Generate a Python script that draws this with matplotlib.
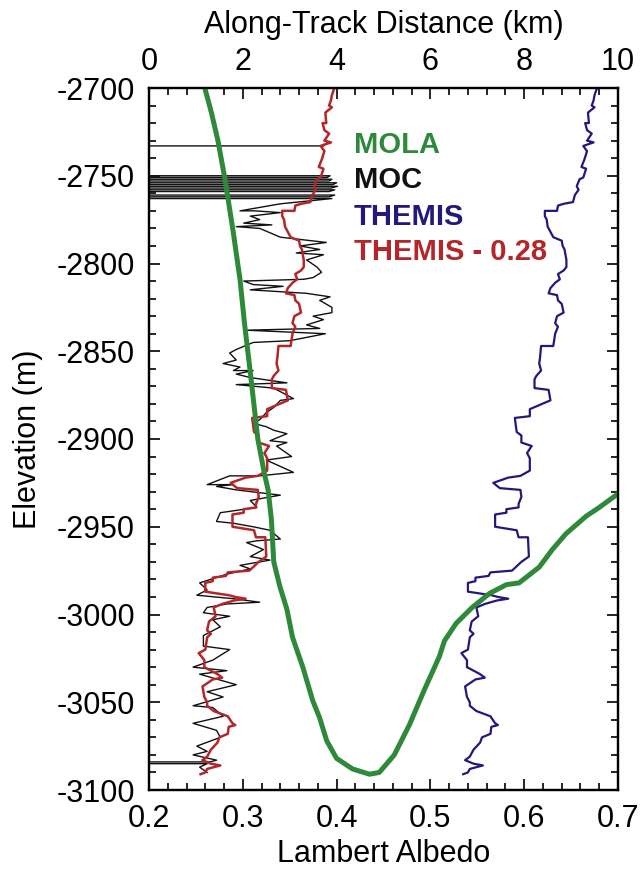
import matplotlib
matplotlib.use('Agg')
import matplotlib.pyplot as plt
from matplotlib.ticker import MultipleLocator
import numpy as np

plt.rcParams['font.family'] = ['Liberation Sans', 'DejaVu Sans']
plt.rcParams['axes.unicode_minus'] = False

# MOLA topography along the track (km, m)
mola_dist = [1.19, 1.33, 1.47, 1.62, 1.79, 1.94, 2.04, 2.16, 2.32, 2.47, 2.54, 2.61,
             2.66, 2.79, 2.94, 3.06, 3.28, 3.49, 3.64, 3.79, 4.00, 4.34, 4.70, 4.91,
             5.23, 5.55, 5.87, 6.19, 6.30, 6.55, 6.89, 7.26, 7.62, 7.89, 8.32, 8.60,
             8.89, 9.32, 9.60, 9.96, 10.1]
mola_elev = [-2700, -2714, -2730, -2752, -2781, -2809, -2835, -2862, -2900, -2921, -2929, -2946,
             -2970, -2984, -2997, -3013, -3030, -3049, -3059, -3072, -3082, -3088, -3091, -3090,
             -3080, -3063, -3043, -3024, -3015, -3005, -2996, -2988, -2983, -2982, -2973, -2963,
             -2954, -2944, -2939, -2932, -2929]

# MOC albedo profile (0.0 = dropout)
moc_albedo = [0.386, 0.0, 0.0, 0.393, 0.390, 0.0, 0.0, 0.395, 0.392, 0.0, 0.0, 0.400, 0.396, 0.0,
              0.0, 0.401, 0.394, 0.0, 0.0, 0.398, 0.392, 0.0, 0.0, 0.398, 0.392, 0.0, 0.0, 0.395,
              0.340, 0.297, 0.313, 0.340, 0.308, 0.318, 0.301, 0.331, 0.293, 0.318, 0.340, 0.389,
              0.361, 0.382, 0.357, 0.386, 0.368, 0.379, 0.384, 0.375, 0.365, 0.301, 0.311, 0.343,
              0.308, 0.368, 0.393, 0.382, 0.395, 0.395, 0.375, 0.386, 0.368, 0.382, 0.304, 0.388,
              0.350, 0.311, 0.293, 0.286, 0.293, 0.279, 0.297, 0.290, 0.311, 0.293, 0.308, 0.347,
              0.293, 0.333, 0.354, 0.340, 0.333, 0.325, 0.318, 0.311, 0.325, 0.333, 0.347, 0.329,
              0.347, 0.336, 0.352, 0.325, 0.354, 0.318, 0.286, 0.262, 0.290, 0.272, 0.293, 0.340,
              0.308, 0.315, 0.276, 0.272, 0.290, 0.311, 0.329, 0.340, 0.315, 0.304, 0.322, 0.308,
              0.329, 0.297, 0.308, 0.283, 0.254, 0.262, 0.251, 0.290, 0.318, 0.283, 0.262, 0.258,
              0.286, 0.268, 0.276, 0.258, 0.258, 0.286, 0.268, 0.247, 0.283, 0.254, 0.293, 0.262,
              0.279, 0.247, 0.268, 0.279, 0.247, 0.272, 0.276, 0.251, 0.262, 0.247, 0.272, 0.265,
              0.0, 0.0, 0.262, 0.254, 0.262]
moc_elev = [-2733, -2733, -2750, -2750, -2751, -2751, -2752, -2752, -2753, -2753, -2754, -2754, -2755, -2755,
            -2756, -2756, -2757, -2757, -2758, -2758, -2759, -2759, -2761, -2761, -2762, -2762, -2763, -2763,
            -2766, -2770, -2770, -2771, -2773, -2775, -2777, -2778, -2779, -2780, -2785, -2788,
            -2790, -2792, -2794, -2795, -2798, -2802, -2805, -2808, -2809, -2810, -2812, -2813,
            -2815, -2817, -2819, -2821, -2825, -2828, -2830, -2832, -2835, -2837, -2838, -2840,
            -2844, -2845, -2849, -2851, -2855, -2857, -2859, -2861, -2861, -2863, -2865, -2868,
            -2869, -2871, -2877, -2878, -2882, -2885, -2889, -2891, -2893, -2895, -2897, -2901,
            -2902, -2904, -2910, -2912, -2919, -2921, -2921, -2926, -2926, -2927, -2929, -2932,
            -2935, -2939, -2942, -2947, -2948, -2950, -2952, -2957, -2958, -2959, -2963, -2967,
            -2969, -2972, -2974, -2977, -2982, -2986, -2989, -2991, -2993, -2994, -2996, -2999,
            -3001, -3003, -3007, -3012, -3018, -3020, -3026, -3030, -3032, -3034, -3040, -3044,
            -3047, -3052, -3053, -3058, -3062, -3066, -3070, -3075, -3078, -3080, -3083, -3084,
            -3084, -3085, -3085, -3087, -3090]

# THEMIS albedo profile
themis_albedo = [0.677, 0.675, 0.674, 0.672, 0.675, 0.668, 0.669, 0.665, 0.667, 0.672, 0.667, 0.674,
                 0.663, 0.667, 0.664, 0.661, 0.666, 0.663, 0.659, 0.656, 0.658, 0.654, 0.652, 0.642,
                 0.636, 0.635, 0.622, 0.622, 0.624, 0.625, 0.628, 0.631, 0.640, 0.641, 0.643, 0.645,
                 0.645, 0.642, 0.636, 0.638, 0.633, 0.628, 0.626, 0.635, 0.636, 0.640, 0.642, 0.635,
                 0.633, 0.636, 0.633, 0.631, 0.618, 0.617, 0.616, 0.618, 0.613, 0.611, 0.611, 0.626,
                 0.628, 0.619, 0.606, 0.606, 0.590, 0.592, 0.597, 0.597, 0.608, 0.603, 0.606, 0.606,
                 0.596, 0.583, 0.567, 0.574, 0.596, 0.597, 0.594, 0.594, 0.581, 0.581, 0.569, 0.569,
                 0.592, 0.594, 0.604, 0.605, 0.597, 0.587, 0.564, 0.562, 0.548, 0.548, 0.540, 0.540,
                 0.565, 0.572, 0.583, 0.571, 0.558, 0.549, 0.551, 0.544, 0.542, 0.546, 0.542, 0.540,
                 0.533, 0.539, 0.539, 0.553, 0.558, 0.548, 0.537, 0.539, 0.542, 0.542, 0.549, 0.564,
                 0.569, 0.572, 0.565, 0.564, 0.555, 0.553, 0.546, 0.542, 0.537, 0.546, 0.556, 0.542,
                 0.540, 0.535]
themis_elev = [-2701, -2704, -2707, -2710, -2711, -2714, -2720, -2720, -2724, -2726, -2730, -2731,
               -2733, -2736, -2741, -2745, -2746, -2751, -2752, -2756, -2758, -2761, -2765, -2766,
               -2767, -2770, -2770, -2773, -2775, -2779, -2782, -2785, -2787, -2790, -2792, -2798,
               -2802, -2804, -2806, -2809, -2811, -2814, -2817, -2818, -2821, -2823, -2828, -2830,
               -2834, -2836, -2840, -2847, -2847, -2853, -2857, -2861, -2864, -2866, -2871, -2872,
               -2878, -2880, -2883, -2887, -2888, -2896, -2898, -2902, -2904, -2908, -2911, -2918,
               -2921, -2922, -2925, -2928, -2929, -2933, -2937, -2939, -2940, -2942, -2943, -2950,
               -2952, -2956, -2956, -2967, -2970, -2975, -2976, -2978, -2979, -2981, -2982, -2987,
               -2989, -2990, -2991, -2992, -2994, -2996, -3001, -3004, -3009, -3011, -3013, -3020,
               -3022, -3026, -3030, -3034, -3036, -3037, -3041, -3047, -3050, -3052, -3055, -3058,
               -3062, -3063, -3064, -3068, -3070, -3073, -3077, -3081, -3083, -3085, -3086, -3088,
               -3090, -3091]
themis_offset = 0.28

green = '#2e8a3a'
navy = '#24187a'
red = '#b3272a'

fig = plt.figure(figsize=(6.42, 8.73), dpi=100)
ax = fig.add_axes([149/642, 1 - 790/873, 469/642, 702/873])

ax.plot(moc_albedo, moc_elev, color='#111111', lw=1.0)
ax.plot(np.array(themis_albedo) - themis_offset, themis_elev, color=red, lw=1.8)
ax.plot(themis_albedo, themis_elev, color=navy, lw=1.6)

ax.set_xlim(0.2, 0.7)
ax.set_ylim(-3100, -2700)
ax.xaxis.set_major_locator(MultipleLocator(0.1))
ax.xaxis.set_minor_locator(MultipleLocator(0.02))
ax.yaxis.set_major_locator(MultipleLocator(50))
ax.yaxis.set_minor_locator(MultipleLocator(10))
ax.tick_params(axis='both', which='both', direction='in', labelsize=22, width=1.2)
ax.tick_params(which='major', length=8)
ax.tick_params(which='minor', length=5)
ax.tick_params(axis='y', which='both', left=True, right=True, pad=10)
ax.tick_params(axis='x', which='both', top=False, bottom=True, pad=10)
ax.set_xlabel('Lambert Albedo', fontsize=22, labelpad=4)
ax.set_ylabel('Elevation (m)', fontsize=22, labelpad=10)

ax2 = ax.twiny()
ax2.plot(mola_dist, mola_elev, color=green, lw=3.6, solid_capstyle='round')
ax2.set_xlim(0, 10)
ax2.xaxis.set_major_locator(MultipleLocator(2))
ax2.xaxis.set_minor_locator(MultipleLocator(0.4))
ax2.tick_params(axis='x', which='both', direction='in', labelsize=22, width=1.2, pad=8)
ax2.tick_params(which='major', length=8)
ax2.tick_params(which='minor', length=5)
ax2.set_xlabel('Along-Track Distance (km)', fontsize=22, labelpad=10)

for a in (ax, ax2):
    for s in a.spines.values():
        s.set_linewidth(1.6)

labels = ['MOLA', 'MOC', 'THEMIS', 'THEMIS - 0.28']
colors = [green, '#111111', navy, red]
ys = [0.9074, 0.8575, 0.8048, 0.755]
for txt, c, yy in zip(labels, colors, ys):
    ax.text(0.437, yy, txt, transform=ax.transAxes, color=c, fontsize=21,
            fontweight='bold', va='baseline', ha='left')

fig.savefig('out.png', dpi=100)
